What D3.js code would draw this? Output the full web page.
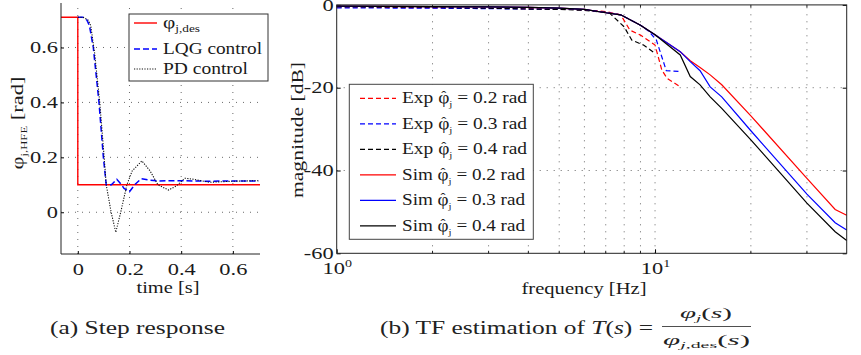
<!DOCTYPE html>
<html>
<head>
<meta charset="utf-8">
<script src="https://cdn.jsdelivr.net/npm/d3@7"></script>
<style>
  html, body { margin: 0; padding: 0; background: #fff; }
  svg { display: block; font-family: "Liberation Serif", serif; }
</style>
</head>
<body>
<div id="chart"></div>
<script>
// (a) step response
const refT = [-0.065, 0, 0, 0.705];
const refV = [0.71, 0.71, 0.1, 0.1];
const lqgT = [0, 0.02, 0.035, 0.045, 0.06, 0.082, 0.099, 0.11, 0.13, 0.151, 0.165, 0.179, 0.2, 0.22, 0.245, 0.28, 0.31, 0.4, 0.5, 0.6, 0.7];
const lqgV = [0.71, 0.71, 0.70, 0.68, 0.60, 0.40, 0.20, 0.10, 0.10, 0.12, 0.105, 0.087, 0.075, 0.10, 0.122, 0.117, 0.114, 0.115, 0.113, 0.114, 0.114];
const pdT = [0, 0.02, 0.04, 0.05, 0.065, 0.085, 0.102, 0.11, 0.129, 0.147, 0.166, 0.19, 0.21, 0.248, 0.28, 0.31, 0.351, 0.38, 0.415, 0.45, 0.51, 0.6, 0.7];
const pdV = [0.71, 0.71, 0.70, 0.68, 0.58, 0.40, 0.20, 0.10, 0.0, -0.073, 0.0, 0.10, 0.15, 0.187, 0.15, 0.10, 0.081, 0.095, 0.124, 0.12, 0.109, 0.113, 0.115];
const stepTicksX = [0, 0.2, 0.4, 0.6];
const stepTicksY = [0, 0.2, 0.4, 0.6];

// (b) magnitude in dB vs frequency in Hz
const simF = [1, 2, 3, 4, 5, 6, 7, 7.8, 9, 10, 12, 12.9, 13.85, 14.9, 16.2, 20, 30, 36.8, 40];
const sim02 = [-0.3, -0.4, -0.5, -0.6, -0.8, -1.1, -1.9, -2.4, -4.9, -7.2, -11.3, -13.5, -15.1, -16.9, -19.3, -26.8, -41.9, -49.4, -50.8];
const sim03 = [-0.3, -0.4, -0.5, -0.6, -0.8, -1.1, -1.9, -2.4, -4.9, -7.2, -11.3, -13.7, -15.9, -19.8, -22.2, -30.4, -45.7, -52.6, -54.4];
const sim04 = [-0.3, -0.4, -0.5, -0.6, -0.8, -1.1, -1.9, -2.4, -4.9, -7.2, -12.1, -17.3, -19.3, -22.2, -25.0, -32.6, -47.9, -54.8, -56.9];
const exp02F = [1, 2, 3, 4, 5, 6, 7, 7.8, 8.34, 9, 10, 10.5, 10.9, 12];
const exp02 = [-0.5, -0.7, -0.8, -0.9, -1.0, -1.2, -1.6, -2.4, -6.1, -7.3, -9.7, -15.7, -17.7, -19.8];
const exp03F = [1, 2, 3, 4, 5, 6, 7, 7.8, 9, 9.6, 10.1, 10.85, 12];
const exp03 = [-0.7, -0.8, -0.9, -1.0, -1.0, -1.2, -1.8, -2.4, -4.9, -6.5, -8.5, -15.9, -16.1];
const exp04F = [1, 2, 3, 4, 5, 6, 7, 7.2, 8.0, 8.45, 9.2, 10];
const exp04 = [-0.4, -0.6, -0.8, -1.0, -1.1, -1.3, -1.8, -2.0, -5.3, -8.5, -9.7, -11.7];
const magTicksY = [0, -20, -40, -60];
const freqMajor = [1, 10];
const freqMinor = [2, 3, 4, 5, 6, 7, 8, 9, 20, 30];
const legendValues = ["0.2", "0.3", "0.4"];

const W = 861, H = 355;
const FONT = "Liberation Serif";
const INK = "#1a1a1a";
const svg = d3.select("#chart").append("svg").attr("width", W).attr("height", H);
svg.append("rect").attr("width", W).attr("height", H).attr("fill", "#fff");

const GRID = { stroke: "#444", "stroke-width": 0.8, "stroke-dasharray": "1,6" };
function attrs(sel, o) { for (const k in o) sel.attr(k, o[k]); return sel; }
// the original figure is squeezed wider than it is tall, so stretch glyphs sideways
function stretchTo(sel, w) {
  sel.attr("textLength", w).attr("lengthAdjust", "spacingAndGlyphs");
  return sel;
}
function stretchBy(sel, k) {
  sel.each(function () {
    const L = this.getComputedTextLength();
    this.setAttribute("textLength", L * k);
    this.setAttribute("lengthAdjust", "spacingAndGlyphs");
  });
  return sel;
}
const TICK_K = 1.4;

// ---------- (a) step response ----------
const xL = d3.scaleLinear().domain([-0.065, 0.705]).range([61, 260]);
const yL = d3.scaleLinear().domain([-0.152, 0.762]).range([254, 3]);
const gA = svg.append("g");

stepTicksY.forEach(v => attrs(gA.append("line")
  .attr("x1", xL.range()[0]).attr("x2", xL.range()[1]).attr("y1", yL(v)).attr("y2", yL(v)), GRID));
stepTicksX.forEach(v => attrs(gA.append("line")
  .attr("x1", xL(v)).attr("x2", xL(v)).attr("y1", yL.range()[0]).attr("y2", yL.range()[1]), GRID));

gA.append("g").attr("transform", `translate(0,${yL.range()[0]})`)
  .call(d3.axisBottom(xL).tickValues(stepTicksX).tickSize(-3).tickPadding(10).tickFormat(d3.format("")))
  .call(s => s.select(".domain").remove())
  .call(s => stretchBy(s.selectAll("text").attr("font-family", FONT).attr("font-size", 16).attr("fill", INK), TICK_K));
gA.append("g").attr("transform", `translate(${xL.range()[0]},0)`)
  .call(d3.axisLeft(yL).tickValues(stepTicksY).tickSize(-3).tickPadding(3).tickFormat(d3.format("")))
  .call(s => s.select(".domain").remove())
  .call(s => stretchBy(s.selectAll("text").attr("font-family", FONT).attr("font-size", 16).attr("fill", INK), TICK_K));

const lineL = d3.line().x(d => xL(d[0])).y(d => yL(d[1]));
const zipL = (t, v) => t.map((d, i) => [d, v[i]]);
gA.append("path").datum(zipL(refT, refV)).attr("d", lineL)
  .attr("fill", "none").attr("stroke", "#f00").attr("stroke-width", 1.4);
gA.append("path").datum(zipL(lqgT, lqgV)).attr("d", lineL)
  .attr("fill", "none").attr("stroke", "#00f").attr("stroke-width", 1.5).attr("stroke-dasharray", "6,3");
gA.append("path").datum(zipL(pdT, pdV)).attr("d", lineL)
  .attr("fill", "none").attr("stroke", "#111").attr("stroke-width", 1.1).attr("stroke-dasharray", "1.2,1.4");

// axis lines (left and bottom only)
gA.append("path")
  .attr("d", `M${xL.range()[0]},${yL.range()[1]}V${yL.range()[0]}H${xL.range()[1]}`)
  .attr("fill", "none").attr("stroke", "#222").attr("stroke-width", 1);

// legend (a)
const lgA = gA.append("g");
lgA.append("rect").attr("x", 129).attr("y", 14).attr("width", 139).attr("height", 67)
  .attr("fill", "#fff").attr("stroke", "#333").attr("stroke-width", 1);
const legA = [
  { y: 23, stroke: "#f00", dash: null, w: 1.4 },
  { y: 49, stroke: "#00f", dash: "6,3", w: 1.5 },
  { y: 69, stroke: "#111", dash: "1.2,1.4", w: 1.1 }
];
legA.forEach(e => lgA.append("line").attr("x1", 134).attr("x2", 157).attr("y1", e.y).attr("y2", e.y)
  .attr("stroke", e.stroke).attr("stroke-width", e.w).attr("stroke-dasharray", e.dash));
const t1 = lgA.append("text").attr("x", 163).attr("y", legA[0].y + 5).attr("font-size", 16).attr("fill", INK);
t1.append("tspan").text("φ");
t1.append("tspan").attr("font-size", 10).attr("dy", 4).text("j,des");
stretchTo(t1, 37);
stretchTo(lgA.append("text").attr("x", 163).attr("y", legA[1].y + 5).attr("font-size", 16).attr("fill", INK).text("LQG control"), 99);
stretchTo(lgA.append("text").attr("x", 163).attr("y", legA[2].y + 5).attr("font-size", 16).attr("fill", INK).text("PD control"), 85);

// axis labels (a)
const ylA = gA.append("text").attr("transform", "translate(23,123) rotate(-90)")
  .attr("text-anchor", "middle").attr("font-size", 16).attr("fill", INK);
ylA.append("tspan").text("φ");
ylA.append("tspan").attr("font-size", 9).attr("dy", 4).text("j,HFE");
ylA.append("tspan").attr("dy", -4).text(" [rad]");
stretchTo(ylA, 93);
stretchTo(gA.append("text").attr("x", 168).attr("y", 293).attr("text-anchor", "middle")
  .attr("font-size", 16).attr("fill", INK).text("time [s]"), 63);

// ---------- (b) transfer function ----------
const xR = d3.scaleLog().domain([1, 40]).range([336.7, 846.7]);
const yR = d3.scaleLinear().domain([-60, 0]).range([253.3, 4.9]);
const gB = svg.append("g");
const [x0, x1] = xR.range(), [yb, yt] = yR.range();

freqMinor.concat([10]).forEach(f => attrs(gB.append("line")
  .attr("x1", xR(f)).attr("x2", xR(f)).attr("y1", yb).attr("y2", yt), GRID));
[-20, -40].forEach(v => attrs(gB.append("line")
  .attr("x1", x0).attr("x2", x1).attr("y1", yR(v)).attr("y2", yR(v)), GRID));

// minor ticks top and bottom
freqMinor.forEach(f => {
  gB.append("line").attr("x1", xR(f)).attr("x2", xR(f)).attr("y1", yb).attr("y2", yb - 2.5).attr("stroke", "#222");
  gB.append("line").attr("x1", xR(f)).attr("x2", xR(f)).attr("y1", yt).attr("y2", yt + 2.5).attr("stroke", "#222");
});

gB.append("g").attr("transform", `translate(0,${yb})`)
  .call(d3.axisBottom(xR).tickValues(freqMajor).tickSize(-4).tickPadding(9).tickFormat(""))
  .call(s => s.select(".domain").remove())
  .call(s => s.selectAll("text").each(function (d) {
    const t = d3.select(this).attr("font-family", FONT).attr("font-size", 16).attr("fill", INK);
    t.append("tspan").text("10");
    t.append("tspan").attr("font-size", 10).attr("dy", -7).text(Math.round(Math.log10(d)));
    stretchBy(t, TICK_K);
  }));
gB.append("g").attr("transform", `translate(${x0},0)`)
  .call(d3.axisLeft(yR).tickValues(magTicksY).tickSize(-4).tickPadding(3).tickFormat(d => d === 0 ? "0" : "-" + Math.abs(d)))
  .call(s => s.select(".domain").remove())
  .call(s => stretchBy(s.selectAll("text").attr("font-family", FONT).attr("font-size", 16).attr("fill", INK), TICK_K));
gB.append("g").attr("transform", `translate(${x1},0)`)
  .call(d3.axisRight(yR).tickValues(magTicksY).tickSize(-4).tickFormat(""))
  .call(s => s.select(".domain").remove());

const lineR = d3.line().x(d => xR(d[0])).y(d => yR(d[1]));
const zipR = (f, v) => f.map((d, i) => [d, v[i]]);
const expSeries = [[exp02F, exp02, "#f00"], [exp03F, exp03, "#00f"], [exp04F, exp04, "#000"]];
const simSeries = [[simF, sim02, "#f00"], [simF, sim03, "#00f"], [simF, sim04, "#000"]];
expSeries.forEach(([f, v, c]) => gB.append("path").datum(zipR(f, v)).attr("d", lineR)
  .attr("fill", "none").attr("stroke", c).attr("stroke-width", 1.2).attr("stroke-dasharray", "5,3"));
simSeries.forEach(([f, v, c]) => gB.append("path").datum(zipR(f, v)).attr("d", lineR)
  .attr("fill", "none").attr("stroke", c).attr("stroke-width", 1.2));

gB.append("rect").attr("x", x0).attr("y", yt).attr("width", x1 - x0).attr("height", yb - yt)
  .attr("fill", "none").attr("stroke", "#222").attr("stroke-width", 1);

// legend (b)
const lgB = gB.append("g");
lgB.append("rect").attr("x", 349.3).attr("y", 84.3).attr("width", 184).attr("height", 155)
  .attr("fill", "#fff").attr("stroke", "#444").attr("stroke-width", 1);
const legB = expSeries.map((s, i) => ({ kind: "Exp", c: s[2], dash: "5,3", val: legendValues[i] }))
  .concat(simSeries.map((s, i) => ({ kind: "Sim", c: s[2], dash: null, val: legendValues[i] })));
legB.forEach((e, i) => {
  const y = 98.3 + i * 25.5;
  lgB.append("line").attr("x1", 360).attr("x2", 396).attr("y1", y).attr("y2", y)
    .attr("stroke", e.c).attr("stroke-width", 1.2).attr("stroke-dasharray", e.dash);
  const t = lgB.append("text").attr("x", 402).attr("y", y + 5).attr("font-size", 16).attr("fill", INK);
  t.append("tspan").text(e.kind + " φ");
  t.append("tspan").attr("font-size", 9).attr("dy", 4).text("j");
  t.append("tspan").attr("dy", -4).text(" = " + e.val + " rad");
  stretchTo(t, e.kind === "Exp" ? 125 : 123);
  // hat over the phi, placed on the stretched glyph
  const r = t.node().getExtentOfChar(4);
  lgB.append("text").attr("x", r.x + r.width / 2).attr("y", y + 3).attr("text-anchor", "middle")
    .attr("font-size", 15).attr("fill", INK).text("ˆ");
});

// axis labels (b)
stretchTo(gB.append("text").attr("transform", "translate(303,130) rotate(-90)")
  .attr("text-anchor", "middle").attr("font-size", 16).attr("fill", INK).text("magnitude [dB]"), 136);
stretchTo(gB.append("text").attr("x", 584).attr("y", 294).attr("text-anchor", "middle")
  .attr("font-size", 16).attr("fill", INK).text("frequency [Hz]"), 125);

// ---------- captions ----------
stretchTo(svg.append("text").attr("x", 50).attr("y", 334)
  .attr("font-size", 18).attr("fill", "#222").text("(a) Step response"), 175);
const cap = svg.append("text").attr("x", 380).attr("y", 334).attr("font-size", 18).attr("fill", "#222");
cap.append("tspan").text("(b) TF estimation of ");
cap.append("tspan").attr("font-style", "italic").text("T");
cap.append("tspan").text("(");
cap.append("tspan").attr("font-style", "italic").text("s");
cap.append("tspan").text(") =");
stretchTo(cap, 273);
const num = svg.append("text").attr("x", 680).attr("y", 318).attr("font-size", 14).attr("fill", "#222");
num.append("tspan").attr("font-style", "italic").text("φ");
num.append("tspan").attr("font-style", "italic").attr("font-size", 9).attr("dy", 3).text("j");
num.append("tspan").attr("dy", -3).text("(");
num.append("tspan").attr("font-style", "italic").text("s");
num.append("tspan").text(")");
stretchTo(num, 52);
svg.append("line").attr("x1", 662).attr("x2", 751).attr("y1", 326.5).attr("y2", 326.5)
  .attr("stroke", "#222").attr("stroke-width", 0.8);
const den = svg.append("text").attr("x", 663).attr("y", 345).attr("font-size", 14).attr("fill", "#222");
den.append("tspan").attr("font-style", "italic").text("φ");
den.append("tspan").attr("font-size", 9).attr("dy", 3).attr("font-style", "italic").text("j");
den.append("tspan").attr("font-size", 9).text(",des");
den.append("tspan").attr("dy", -3).text("(");
den.append("tspan").attr("font-style", "italic").text("s");
den.append("tspan").text(")");
stretchTo(den, 87);
</script>
</body>
</html>
